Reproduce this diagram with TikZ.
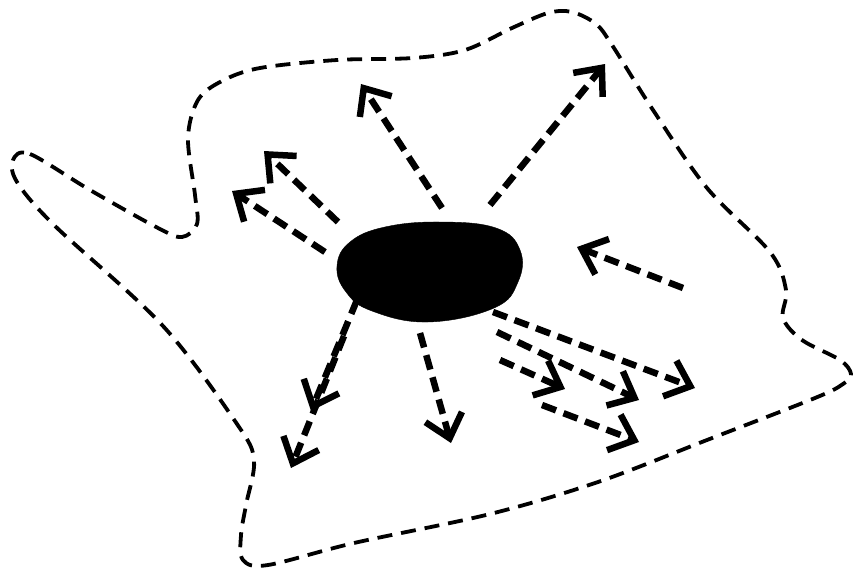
\documentclass[tikz,border=0pt]{standalone}
\usetikzlibrary{arrows.meta}
\begin{document}
\begin{tikzpicture}[x=1pt,y=-1pt,
  outline/.style={line width=3.8pt, dash pattern=on 15pt off 9pt, line join=round},
  darrow/.style={line width=6.5pt, dash pattern=on 15pt off 8pt,
    -{Straight Barb[length=22pt,width=38pt,line width=6.5pt]}},
  nucleus/.style={fill=black, draw=black}]
\useasboundingbox (0,0) rectangle (853,568);
% cell outline
\draw[outline] plot[smooth cycle, tension=0.55] coordinates {
 (13,160) (30,154) (90,190) (158,228) (182,237) (197,224) (195,195)
 (188,138) (198,100) (222,81) (260,68) (337,60) (413,58) (465,50)
 (512,28) (548,13) (572,12) (596,24) (612,45) (653,110) (707,188)
 (770,252) (786,290) (783,318) (802,340) (840,360) (851,374) (843,384)
 (815,398) (707,440) (598,482) (490,514) (354,543) (268,565) (243,560)
 (241,535) (246,505) (254,460) (237,424) (163,326) (54,225) (17,182)};
% nucleus
\fill[nucleus] plot[smooth cycle, tension=0.7] coordinates {
 (337,266) (350,242) (385,227) (440,222) (496,228) (520,250) (518,282)
 (494,308) (428,322) (372,311) (346,292)};
% arrow end points
\coordinate (a1s) at (442,208); \coordinate (a1e) at (361,84);
\coordinate (a2s) at (490,205); \coordinate (a2e) at (605,64);
\coordinate (a3s) at (338,222); \coordinate (a3e) at (264,151);
\coordinate (a4s) at (325,252); \coordinate (a4e) at (232,191);
\coordinate (a5s) at (357,300); \coordinate (a5e) at (311,411);
\coordinate (a6s) at (344,336); \coordinate (a6e) at (291,468);
\coordinate (a7s) at (420,333); \coordinate (a7e) at (451,443);
\coordinate (a8s) at (683,288); \coordinate (a8e) at (577,247);
\coordinate (a9s) at (493,312); \coordinate (a9e) at (695,388);
\coordinate (a10s) at (497,332); \coordinate (a10e) at (639,400);
\coordinate (a11s) at (500,360); \coordinate (a11e) at (565,389);
\coordinate (a12s) at (542,405); \coordinate (a12e) at (639,442);
\foreach \i in {1,...,12} {\draw[darrow] (a\i s) -- (a\i e);}
\end{tikzpicture}
\end{document}
